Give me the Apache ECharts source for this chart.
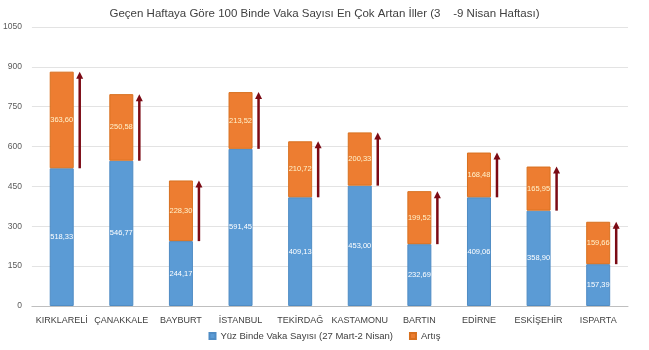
<!DOCTYPE html>
<html><head><meta charset="utf-8">
<script src="https://cdn.jsdelivr.net/npm/echarts@6/dist/echarts.min.js"></script>
<style>html,body{margin:0;padding:0;background:#fff}#c{width:649px;height:350px}</style>
</head><body><div id="c"></div>
<script>
const categories = ["KIRKLARELİ","ÇANAKKALE","BAYBURT","İSTANBUL","TEKİRDAĞ","KASTAMONU","BARTIN","EDİRNE","ESKİŞEHİR","ISPARTA"];
const baseValues = [518.33, 546.77, 244.17, 591.45, 409.13, 453.00, 232.69, 409.06, 358.90, 157.39];
const increaseValues = [363.60, 250.58, 228.30, 213.52, 210.72, 200.33, 199.52, 168.48, 165.95, 159.66];
const yTicks = [0,150,300,450,600,750,900,1050];
const titleText = "Geçen Haftaya Göre 100 Binde Vaka Sayısı En Çok Artan İller (3    -9 Nisan Haftası)";
const baseName = "Yüz Binde Vaka Sayısı (27 Mart-2 Nisan)";
const incName = "Artış";

const FONT = "'Liberation Sans',sans-serif";
const fmt = v => v.toFixed(2).replace('.', ',');
const arrowData = baseValues.map((b,i)=>[i, b, b+increaseValues[i]]);

const chart = echarts.init(document.getElementById('c'));
chart.setOption({
  animation:false,
  textStyle:{fontFamily:FONT},
  title:{text:titleText,left:'center',top:3,textStyle:{fontFamily:FONT,fontSize:11.5,fontWeight:'normal',color:'#404040'}},
  grid:{left:31,right:21,top:27,bottom:44},
  legend:{data:[baseName,incName],bottom:4,left:'center',itemWidth:6,itemHeight:6,icon:'rect',itemGap:16,
    textStyle:{fontFamily:FONT,fontSize:9.5,color:'#404040'}},
  xAxis:{type:'category',data:categories,
    axisLine:{lineStyle:{color:'#bfbfbf'}},axisTick:{show:false},
    axisLabel:{fontFamily:FONT,fontSize:9,color:'#404040',margin:10,interval:0}},
  yAxis:{type:'value',min:yTicks[0],max:yTicks[yTicks.length-1],interval:150,
    axisLine:{show:false},axisTick:{show:false},
    axisLabel:{fontFamily:FONT,fontSize:8.5,color:'#595959',margin:10,formatter:v=>String(v)},
    splitLine:{lineStyle:{color:'#e3e3e3'}}},
  series:[
    {name:baseName,type:'bar',stack:'t',data:baseValues,barWidth:24,
     itemStyle:{color:'#5b9bd5',borderColor:'#4f8cc4',borderWidth:1},
     label:{show:true,position:'inside',color:'#ffffff',fontSize:7.5,fontFamily:FONT,formatter:p=>fmt(p.value)}},
    {name:incName,type:'bar',stack:'t',data:increaseValues,barWidth:24,
     itemStyle:{color:'#ed7d31',borderColor:'#d8701f',borderWidth:1},
     label:{show:true,position:'inside',color:'#fff2cc',fontSize:7.5,fontFamily:FONT,formatter:p=>fmt(p.value)}},
    {type:'custom',name:'arrows',data:arrowData,encode:{x:0,y:[1,2]},silent:true,z:5,
     renderItem:function(params,api){
       const p0=api.coord([api.value(0),api.value(1)]);
       const p1=api.coord([api.value(0),api.value(2)]);
       const x=p0[0]+18, c='#7b0a14';
       return {type:'group',children:[
         {type:'line',shape:{x1:x,y1:p0[1],x2:x,y2:p1[1]+5},style:{stroke:c,lineWidth:2.5}},
         {type:'polygon',shape:{points:[[x-3.5,p1[1]+7],[x+3.5,p1[1]+7],[x,p1[1]]]},style:{fill:c}}
       ]};
     }}
  ]
});
</script></body></html>
